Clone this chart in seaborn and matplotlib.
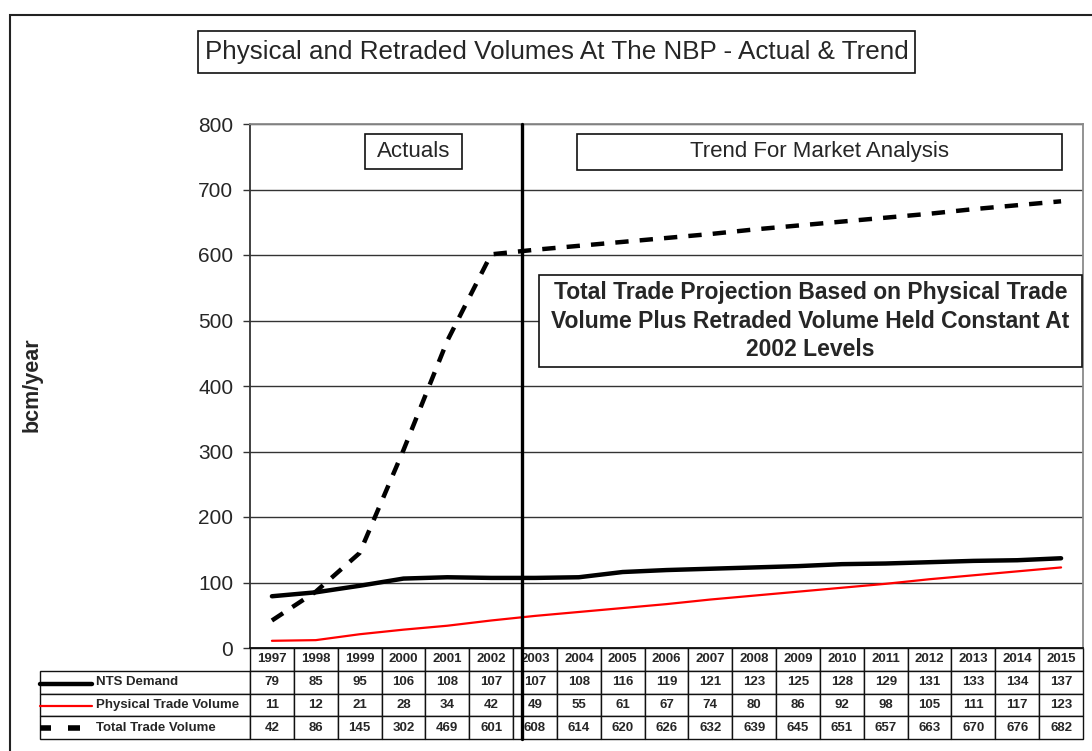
import matplotlib
matplotlib.use('Agg')
import matplotlib.pyplot as plt
import seaborn as sns
import pandas as pd
from matplotlib.lines import Line2D
from matplotlib.patches import Rectangle

years = [str(y) for y in range(1997, 2016)]
nts_demand = [79, 85, 95, 106, 108, 107, 107, 108, 116, 119, 121, 123, 125, 128, 129, 131, 133, 134, 137]
physical_trade = [11, 12, 21, 28, 34, 42, 49, 55, 61, 67, 74, 80, 86, 92, 98, 105, 111, 117, 123]
total_trade = [42, 86, 145, 302, 469, 601, 608, 614, 620, 626, 632, 639, 645, 651, 657, 663, 670, 676, 682]
series_names = ['NTS Demand', 'Physical Trade Volume', 'Total Trade Volume']
y_ticks = [0, 100, 200, 300, 400, 500, 600, 700, 800]

sns.set_style('white')
plt.rcParams['font.family'] = ['Liberation Sans', 'DejaVu Sans']

W, H = 1092, 751
fig = plt.figure(figsize=(W / 100, H / 100), dpi=100)


def fx(px):
    return px / W


def fy(py):
    return 1 - py / H


# outer frame (cut off at right / bottom like the source)
fig.add_artist(Rectangle((fx(10), -0.2), 2, fy(15) + 0.2, transform=fig.transFigure,
                         fill=False, edgecolor='#222222', lw=1.5, clip_on=False))

ax = fig.add_axes([fx(250), fy(648), fx(1083) - fx(250), fy(124) - fy(648)])

df = pd.DataFrame({'pos': range(len(years)),
                   series_names[0]: nts_demand,
                   series_names[1]: physical_trade,
                   series_names[2]: total_trade})

sns.lineplot(data=df, x='pos', y=series_names[0], color='black', lw=3.2, ax=ax, zorder=4)
sns.lineplot(data=df, x='pos', y=series_names[1], color='red', lw=1.6, ax=ax, zorder=4)
sns.lineplot(data=df, x='pos', y=series_names[2], color='black', lw=3.2,
             linestyle=(0, (3, 2.5)), ax=ax, zorder=4)

ax.set_xlim(-0.5, len(years) - 0.5)
ax.set_ylim(0, 800)
ax.set_yticks(y_ticks)
ax.set_xticks([])
ax.set_xlabel('')
ax.set_ylabel('')
ax.tick_params(axis='y', labelsize=15, length=5, width=1, direction='out', pad=7, left=True, color='#333333')
ax.grid(axis='y', color='#333333', lw=1)
ax.set_axisbelow(True)
for s in ['top', 'right']:
    ax.spines[s].set_color('#8a8a8a')
    ax.spines[s].set_linewidth(1.3)
ax.spines['left'].set_color('#333333')
ax.spines['left'].set_linewidth(1.3)
ax.spines['bottom'].set_color('#111111')
ax.spines['bottom'].set_linewidth(1.3)

# data table under the axes (bbox covers the year grid; row labels hang to the left)
tbl_h = (739 - 648) / (648 - 124)
lab_w = (250 - 40) / (1083 - 250)
cell_text = [[str(v) for v in nts_demand],
             [str(v) for v in physical_trade],
             [str(v) for v in total_trade]]
table = ax.table(cellText=cell_text, rowLabels=series_names, colLabels=years,
                 cellLoc='center', rowLoc='left',
                 colWidths=[1 / len(years)] * len(years),
                 bbox=[0, -tbl_h, 1, tbl_h])
table._autoColumns = [c for c in table._autoColumns if c != -1]
table.auto_set_font_size(False)
table.set_fontsize(9.5)
for (r, c), cell in table.get_celld().items():
    cell.set_edgecolor('#111111')
    cell.set_linewidth(1)
    cell.get_text().set_fontweight('bold')
    if c == -1:
        cell.set_width(lab_w)
        cell.PAD = 0.265

# legend samples inside the row-label cells
fig.add_artist(Line2D([fx(40), fx(92)], [fy(684), fy(684)], color='black', lw=3.2))
fig.add_artist(Line2D([fx(40), fx(92)], [fy(706), fy(706)], color='red', lw=1.6))
for a, b in [(40, 51), (68, 80)]:
    fig.add_artist(Line2D([fx(a), fx(b)], [fy(728), fy(728)], color='black', lw=4,
                          solid_capstyle='butt'))

# actual / trend divider
ax.plot([5.7, 5.7], [-tbl_h, 1], transform=ax.get_xaxis_transform(), color='black',
        lw=2.4, clip_on=False, zorder=6)


def box(x0, y0, x1, y1, text, **kw):
    fig.add_artist(Rectangle((fx(x0), fy(y1)), fx(x1) - fx(x0), fy(y0) - fy(y1),
                             transform=fig.transFigure, facecolor='white',
                             edgecolor='#111111', lw=1.2, zorder=7))
    fig.text(fx((x0 + x1) / 2), fy((y0 + y1) / 2), text, ha='center', va='center',
             zorder=8, **kw)


box(198, 31, 915, 73, 'Physical and Retraded Volumes At The NBP - Actual & Trend', fontsize=18.7)
box(365, 134, 462, 169, 'Actuals', fontsize=16)
box(577, 134, 1062, 170, 'Trend For Market Analysis', fontsize=16)
box(539, 275, 1082, 367,
    'Total Trade Projection Based on Physical Trade\nVolume Plus Retraded Volume Held Constant At\n2002 Levels',
    fontsize=16.5, fontweight='bold', linespacing=1.3)

fig.text(fx(32), fy(385), 'bcm/year', rotation=90, ha='center', va='center',
         fontsize=15.5, fontweight='bold')

fig.savefig('out.png', dpi=100)
